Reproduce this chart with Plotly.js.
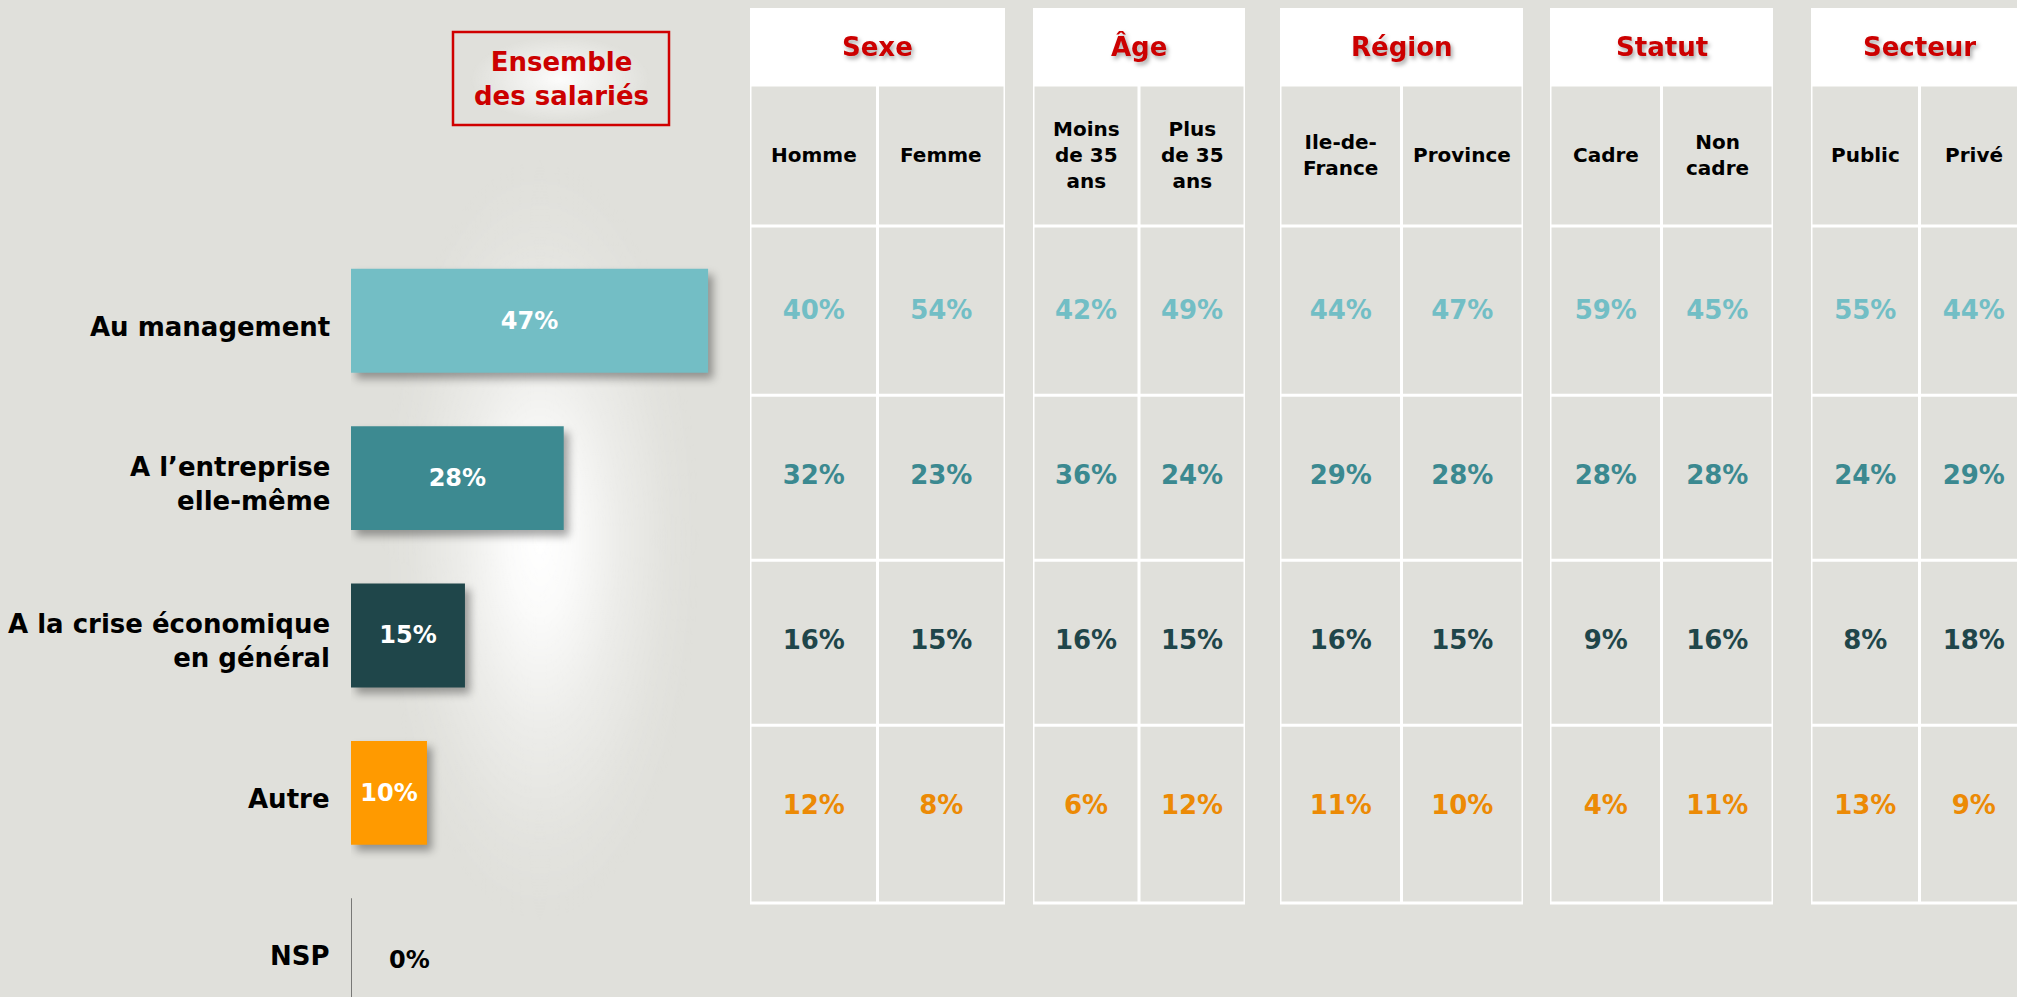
<!DOCTYPE html>
<html><head><meta charset="utf-8">
<script src="https://cdn.plot.ly/plotly-3.0.1.min.js"></script>
<style>html,body{margin:0;padding:0;background:#E0E0DB;overflow:hidden}</style>
</head><body><div id="chart" style="width:2017px;height:997px"></div>
<script>
// ---------------- DATA ----------------
const categories = ['Au management', 'A l’entreprise elle-même', 'A la crise économique en général', 'Autre', 'NSP'];
const categoryLabels = ['Au management', 'A l’entreprise<br>elle-même', 'A la crise économique<br>en général', 'Autre', 'NSP'];
const ensemble = [47, 28, 15, 10, 0];
const groups = ['Sexe', 'Âge', 'Région', 'Statut', 'Secteur'];
const subgroups = [['Homme', 'Femme'], ['Moins de 35 ans', 'Plus de 35 ans'], ['Ile-de-France', 'Province'], ['Cadre', 'Non cadre'], ['Public', 'Privé']];
const subgroupLabels = [['Homme', 'Femme'], ['Moins<br>de 35<br>ans', 'Plus<br>de 35<br>ans'], ['Ile-de-<br>France', 'Province'], ['Cadre', 'Non<br>cadre'], ['Public', 'Privé']];
const rowAuManagement = [40, 54, 42, 49, 44, 47, 59, 45, 55, 44];
const rowEntreprise   = [32, 23, 36, 24, 29, 28, 28, 28, 24, 29];
const rowCrise        = [16, 15, 16, 15, 16, 15, 9, 16, 8, 18];
const rowAutre        = [12, 8, 6, 12, 11, 10, 4, 11, 13, 9];
const tableRows = [rowAuManagement, rowEntreprise, rowCrise, rowAutre];
const tableCategories = categories.slice(0, 4);

// ---------------- STYLE / LAYOUT ----------------
const W = 2017, H = 997;
const BG = '#E0E0DB';
const FONT = 'DejaVu Sans';
const barColors = ['#73BEC5', '#3D8A91', '#1F464A', '#FF9A00', '#888888'];
const rowTextColors = ['#72BEC5', '#3B8990', '#1F464A', '#EC8A05'];
const groupBoxPx = [[750, 1005], [1033, 1245], [1280, 1523], [1550, 1773], [1811, 2028]];
const px = x => x / W;
const py = y => 1 - y / H;

const traces = [];
traces.push({
  type: 'bar', orientation: 'h',
  x: ensemble, y: categories,
  xaxis: 'x', yaxis: 'y',
  width: 0.66,
  marker: { color: barColors, line: { width: ensemble.map(v => v === 0 ? 1.5 : 0), color: '#555555' } },
  text: ensemble.map(v => v > 0 ? v + '%' : ''),
  textposition: 'inside', insidetextanchor: 'middle', constraintext: 'none',
  textfont: { family: FONT, size: 24, color: '#FFFFFF', weight: 'bold' },
  hoverinfo: 'skip'
});

const layout = {
  width: W, height: H,
  margin: { l: 0, r: 0, t: 0, b: 0 },
  paper_bgcolor: BG, plot_bgcolor: 'rgba(0,0,0,0)',
  showlegend: false, hovermode: false,
  font: { family: FONT, color: '#000' },
  xaxis: { domain: [px(351), px(740)], range: [0, 51.2], showgrid: false, zeroline: false, showticklabels: false, showline: false, fixedrange: true },
  yaxis: {
    domain: [0, py(242)], range: [4.297, -0.5], type: 'category',
    categoryorder: 'array', categoryarray: categories,
    showgrid: false, zeroline: false, showline: false, ticks: '', showticklabels: false, fixedrange: true
  },
  yaxis2: {
    domain: [py(903), py(226)], range: [3.576, -0.5245], type: 'category',
    categoryorder: 'array', categoryarray: tableCategories, anchor: 'x2',
    showgrid: false, zeroline: false, showline: false, ticks: '', showticklabels: false, fixedrange: true
  },
  shapes: [], annotations: [], images: []
};

// category labels (left of bars)
categories.forEach((c, i) => {
  layout.annotations.push({ xref: 'paper', yref: 'y', x: px(332), y: c, xanchor: 'right', yanchor: 'middle', align: 'right', yshift: -6,
    text: categoryLabels[i], showarrow: false, font: { family: FONT, size: 26, color: '#000', weight: 'bold' } });
});

// Ensemble box
layout.shapes.push({ type: 'rect', xref: 'paper', yref: 'paper', x0: px(453), x1: px(669), y0: py(125), y1: py(32), line: { color: '#D00000', width: 2.5 }, fillcolor: 'rgba(0,0,0,0)', layer: 'above' });
layout.annotations.push({ xref: 'paper', yref: 'paper', x: px(561), y: py(79), text: 'Ensemble<br>des salariés', showarrow: false, xanchor: 'center', yanchor: 'middle', font: { family: FONT, size: 26, color: '#CC0000', weight: 'bold' } });

// NSP value label
layout.annotations.push({ xref: 'x', yref: 'y', x: 0, y: categories[4], xanchor: 'left', xshift: 36, yshift: -10, text: ensemble[4] + '%', showarrow: false, font: { family: FONT, size: 24, color: '#000', weight: 'bold' } });

// Table groups
groups.forEach((g, i) => {
  const n = i + 2, ax = 'x' + n;
  const [L, R] = groupBoxPx[i];
  const Rv = Math.min(R, W);
  const unit = (R - L) / 2;
  layout['xaxis' + n] = {
    domain: [px(L), px(Rv)], range: [-0.5, -0.5 + (Rv - L) / unit], type: 'category',
    categoryorder: 'array', categoryarray: subgroups[i], anchor: 'y2',
    showgrid: false, zeroline: false, showticklabels: false, showline: false, fixedrange: true
  };
  layout.shapes.push({ type: 'rect', xref: ax, yref: 'paper', x0: -0.5, x1: 1.5, y0: py(85), y1: py(8), fillcolor: '#FFFFFF', line: { width: 0 }, layer: 'below' });
  layout.shapes.push({ type: 'rect', xref: ax, yref: 'paper', x0: -0.5, x1: 1.5, y0: py(903), y1: py(85), fillcolor: 'rgba(0,0,0,0)', line: { width: 3, color: '#FFFFFF' }, layer: 'below' });
  layout.shapes.push({ type: 'line', xref: ax, yref: 'paper', x0: -0.5, x1: 1.5, y0: py(226), y1: py(226), line: { width: 3, color: '#FFFFFF' }, layer: 'below' });
  [0.5, 1.5, 2.5].forEach(b => layout.shapes.push({ type: 'line', xref: ax, yref: 'y2', x0: -0.5, x1: 1.5, y0: b, y1: b, line: { width: 3, color: '#FFFFFF' }, layer: 'below' }));
  layout.shapes.push({ type: 'line', xref: ax, yref: 'paper', x0: 0.5, x1: 0.5, y0: py(903), y1: py(85), line: { width: 3, color: '#FFFFFF' }, layer: 'below' });
  layout.annotations.push({ xref: ax, yref: 'paper', x: 0.5, y: py(47), text: g, showarrow: false, xanchor: 'center', yanchor: 'middle', font: { family: FONT, size: 26, color: '#CC0000', weight: 'bold' } });
  subgroups[i].forEach((s, j) => {
    layout.annotations.push({ xref: ax, yref: 'paper', x: s, y: py(155), text: subgroupLabels[i][j], showarrow: false, xanchor: 'center', yanchor: 'middle', font: { family: FONT, size: 20, color: '#000', weight: 'bold' } });
  });
  const xs = [], ys = [], txt = [], cols = [];
  tableRows.forEach((row, r) => {
    [0, 1].forEach(j => {
      xs.push(subgroups[i][j]); ys.push(tableCategories[r]);
      txt.push(row[i * 2 + j] + '%'); cols.push(rowTextColors[r]);
    });
  });
  traces.push({
    type: 'scatter', mode: 'text', x: xs, y: ys, text: txt,
    xaxis: ax, yaxis: 'y2', cliponaxis: false,
    textposition: 'middle center',
    textfont: { family: FONT, size: 26, color: cols, weight: 'bold' },
    hoverinfo: 'skip'
  });
});

// glow images
function glow(stops) {
  const c = document.createElement('canvas');
  c.width = 256; c.height = 256;
  const ctx = c.getContext('2d');
  const gr = ctx.createRadialGradient(128, 128, 0, 128, 128, 128);
  stops.forEach(s => gr.addColorStop(s[0], 'rgba(255,255,255,' + s[1] + ')'));
  ctx.fillStyle = gr; ctx.fillRect(0, 0, 256, 256);
  return c.toDataURL('image/png');
}
layout.images.push({ source: glow([[0, 1], [0.2, 0.85], [0.5, 0.4], [0.8, 0.1], [1, 0]]), xref: 'paper', yref: 'paper', x: px(380), y: py(160), sizex: px(320), sizey: 760 / H, sizing: 'stretch', xanchor: 'left', yanchor: 'top', layer: 'below' });
layout.images.push({ source: glow([[0, 0.9], [0.45, 0.5], [1, 0]]), xref: 'paper', yref: 'paper', x: px(470), y: py(36), sizex: px(180), sizey: 86 / H, sizing: 'stretch', xanchor: 'left', yanchor: 'top', layer: 'below' });

Plotly.newPlot('chart', traces, layout, { displayModeBar: false, staticPlot: true }).then(gd => {
  gd.querySelectorAll('.barlayer .point path').forEach((p, i) => {
    if (ensemble[i] > 0) p.style.filter = 'drop-shadow(5px 6px 4px rgba(0,0,0,0.35))';
  });
  gd.querySelectorAll('.annotation').forEach(a => {
    const t = a.querySelector('.annotation-text');
    if (t && groups.includes(t.textContent)) a.style.filter = 'drop-shadow(2px 3px 2px rgba(0,0,0,0.35))';
  });
});
</script></body></html>
